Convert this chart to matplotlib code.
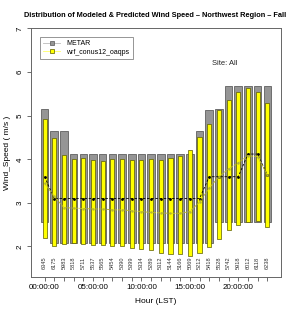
import matplotlib
matplotlib.use('Agg')
from matplotlib import pyplot as plt
from matplotlib.lines import Line2D

plt.rcParams['font.family'] = ['Liberation Sans', 'DejaVu Sans']

hours = list(range(24))
hour_ticks = [0, 5, 10, 15, 20]
hour_labels = ['00:00:00', '05:00:00', '10:00:00', '15:00:00', '20:00:00']

# METAR observed quartiles / median
metar_q75 = [5.15, 4.65, 4.65, 4.12, 4.12, 4.12, 4.12, 4.12, 4.12, 4.12, 4.12, 4.12,
             4.12, 4.12, 4.12, 4.12, 4.65, 5.14, 5.16, 5.67, 5.67, 5.67, 5.67, 5.67]
metar_q25 = [2.56, 2.08, 2.08, 2.08, 2.08, 2.08, 2.08, 2.08, 2.08, 2.08, 2.08, 2.08,
             2.08, 2.08, 2.08, 2.08, 2.08, 2.08, 2.56, 2.56, 2.56, 2.56, 2.56, 2.56]
metar_med = [3.6, 3.1, 3.1, 3.1, 3.1, 3.1, 3.1, 3.1, 3.1, 3.1, 3.1, 3.1,
             3.1, 3.1, 3.1, 3.1, 3.1, 3.6, 3.6, 3.6, 3.6, 4.12, 4.12, 3.64]

# model quartiles / median
model_q75 = [4.93, 4.49, 4.10, 4.01, 4.02, 3.99, 3.95, 4.01, 4.00, 3.99, 3.98, 4.01,
             3.98, 4.03, 4.08, 4.22, 4.52, 4.82, 5.12, 5.37, 5.55, 5.64, 5.55, 5.30]
model_q25 = [2.20, 2.02, 2.06, 2.08, 2.06, 2.03, 2.03, 2.02, 2.00, 1.97, 1.95, 1.92,
             1.85, 1.83, 1.83, 1.78, 1.85, 1.99, 2.17, 2.38, 2.50, 2.56, 2.59, 2.45]
model_med = [3.45, 3.15, 2.89, 2.88, 2.87, 2.86, 2.86, 2.84, 2.84, 2.82, 2.80, 2.78,
             2.77, 2.76, 2.76, 2.80, 3.02, 3.34, 3.60, 3.78, 3.92, 4.08, 4.06, 3.64]

counts = [6345, 6175, 5983, 5818, 5711, 5537, 5565, 5454, 5390, 5399, 5334, 5289,
          5312, 5144, 5166, 5069, 5212, 5418, 5528, 5742, 5918, 6012, 6118, 6238]

fig = plt.figure(figsize=(2.94, 3.12), dpi=100)
ax = fig.add_axes([0.1054, 0.1122, 0.850, 0.7965])

gray_h = [t - b for t, b in zip(metar_q75, metar_q25)]
yel_h = [t - b for t, b in zip(model_q75, model_q25)]
ax.bar(hours, gray_h, bottom=metar_q25, width=0.78, color='#959595',
       edgecolor='#5f5f5f', linewidth=0.6, zorder=2)
ax.bar(hours, yel_h, bottom=model_q25, width=0.42, color='#ffff00',
       edgecolor='#5a5a00', linewidth=0.5, zorder=3)

ax.plot(hours, metar_med, color='black', linestyle=(0, (3, 2)), linewidth=0.6,
        marker='.', markersize=2, zorder=4)
ax.plot(hours, model_med, color='#b8b830', linestyle=(0, (3, 1)), linewidth=0.7,
        marker='.', markersize=1.5, zorder=4)

for h, n in zip(hours, counts):
    ax.text(h, 1.63, str(n), rotation=90, ha='center', va='center',
            fontsize=4.1, color='#333333')

ax.set_xlim(-1.4, 24.4)
ax.set_ylim(1.3, 7.0)
ax.set_xticks(hours, minor=True)
ax.set_xticks(hour_ticks)
ax.set_xticklabels(hour_labels, fontsize=5.8)
ax.set_yticks([2, 3, 4, 5, 6, 7])
ax.set_yticklabels(['2', '3', '4', '5', '6', '7'], fontsize=5.8, rotation=90,
                   va='center')
ax.tick_params(axis='both', which='both', length=3, width=0.6, color='#555555',
               pad=2)
for s in ax.spines.values():
    s.set_color('#666666')
    s.set_linewidth(0.7)

ax.set_xlabel('Hour (LST)', fontsize=6, labelpad=5)
ax.set_ylabel('Wind_Speed ( m/s )', fontsize=6, labelpad=4)

handles = [
    Line2D([0], [0], color='#bbbbbb', linewidth=0.6, marker='s', markersize=3,
           markerfacecolor='#959595', markeredgecolor='#555555', markeredgewidth=0.5),
    Line2D([0], [0], color='#ffff66', linewidth=0.6, marker='s', markersize=3,
           markerfacecolor='#ffff00', markeredgecolor='#5a5a00', markeredgewidth=0.5),
]
leg = ax.legend(handles, ['METAR', 'wrf_conus12_oaqps'], loc='upper left',
                bbox_to_anchor=(0.036, 0.966), borderaxespad=0, fontsize=5,
                fancybox=False, frameon=True, handlelength=2.4, handletextpad=0.9,
                labelspacing=0.2, borderpad=0.5)
leg.get_frame().set_edgecolor('#666666')
leg.get_frame().set_linewidth(0.6)

ax.text(0.776, 0.861, 'Site: All', transform=ax.transAxes, fontsize=5.4,
        ha='center', va='center', color='#222222')

fig.text(0.527, 0.949, 'Distribution of Modeled & Predicted Wind Speed \u2013 Northwest Region \u2013 Fall',
         ha='center', va='center', fontsize=5.3, fontweight='bold')

fig.savefig('out.png', dpi=100)
